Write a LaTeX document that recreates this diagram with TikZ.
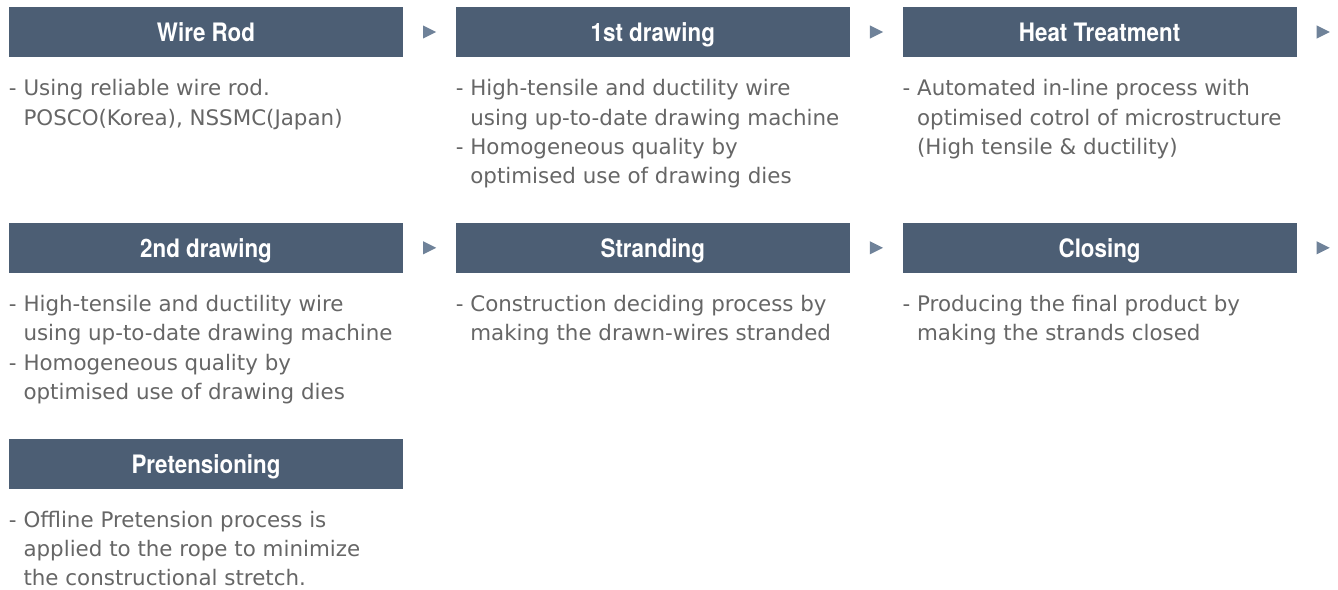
\documentclass[tikz,border=0pt]{standalone}
\usepackage{fontspec}
\setmainfont{DejaVu Sans}
\newfontfamily\headfont[FakeStretch=0.88]{TeX Gyre Heros}
\usetikzlibrary{positioning,shapes.geometric}
\definecolor{stagebg}{HTML}{4C5E74}
\definecolor{tipcol}{HTML}{6F8299}
\definecolor{notecol}{HTML}{666666}
\newcommand{\ind}{\hphantom{- }}

\begin{document}
\begin{tikzpicture}[node distance=26pt,
  stage/.style={fill=stagebg,text=white,minimum width=197pt,minimum height=25pt,inner sep=0pt,text height=12pt,text depth=2.3pt,font=\headfont\bfseries\fontsize{12.7}{14}\selectfont},
  note/.style={align=left,inner sep=0pt,text=notecol,font=\fontsize{10.7}{14.65}\selectfont},
  flowtip/.style={isosceles triangle,isosceles triangle stretches,fill=tipcol,minimum width=6.6pt,minimum height=6.6pt,inner sep=0pt}]
\useasboundingbox (0,0) rectangle (669pt,-294.5pt);
\node[stage] (rod) at (103pt,-16pt) {Wire Rod};
\node[stage,right=of rod] (dr1) {1st drawing};
\node[stage,right=of dr1] (heat) {Heat Treatment};
\node[stage,below=82.5pt of rod] (dr2) {2nd drawing};
\node[stage,right=of dr2] (strand) {Stranding};
\node[stage,right=of strand] (close) {Closing};
\node[stage,below=82.5pt of dr2] (pret) {Pretensioning};

\node[note,below right=8.7pt and 0pt of rod.south west] (rodtx) {\strut- Using reliable wire rod.\\\ind POSCO(Korea), NSSMC(Japan)};
\node[note,below right=8.7pt and 0pt of dr1.south west] (dr1tx) {\strut- High-tensile and ductility wire\\\ind using up-to-date drawing machine\\- Homogeneous quality by\\\ind optimised use of drawing dies};
\node[note,below right=8.7pt and 0pt of heat.south west] (heattx) {\strut- Automated in-line process with\\\ind optimised cotrol of microstructure\\\ind (High tensile \& ductility)};
\node[note,below right=8.7pt and 0pt of dr2.south west] (dr2tx) {\strut- High-tensile and ductility wire\\\ind using up-to-date drawing machine\\- Homogeneous quality by\\\ind optimised use of drawing dies};
\node[note,below right=8.7pt and 0pt of strand.south west] (strandtx) {\strut- Construction deciding process by\\\ind making the drawn-wires stranded};
\node[note,below right=8.7pt and 0pt of close.south west] (closetx) {\strut- Producing the final product by\\\ind making the strands closed};
\node[note,below right=8.7pt and 0pt of pret.south west] (prettx) {\strut- Offline Pretension process is\\\ind applied to the rope to minimize\\\ind the constructional stretch.};

% flow markers
\node[flowtip,right=9.6pt of rod] (arr1) {};
\node[flowtip,right=9.6pt of dr1] (arr2) {};
\node[flowtip,right=9.6pt of heat] (arr3) {};
\node[flowtip,right=9.6pt of dr2] (arr4) {};
\node[flowtip,right=9.6pt of strand] (arr5) {};
\node[flowtip,right=9.6pt of close] (arr6) {};
\end{tikzpicture}
\end{document}
